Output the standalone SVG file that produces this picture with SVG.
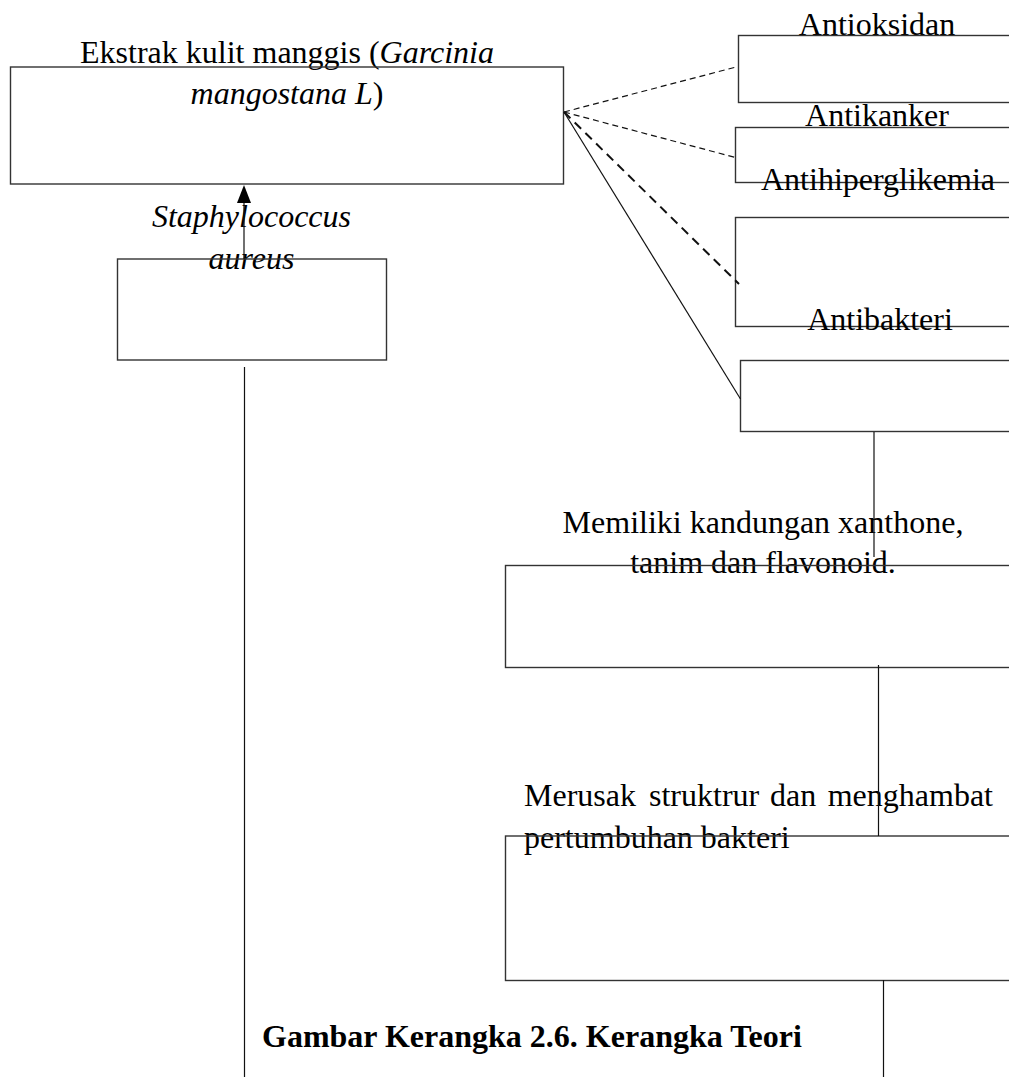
<svg xmlns="http://www.w3.org/2000/svg" width="1009" height="1077" viewBox="0 0 1009 1077">
<style>
text{font-family:"Liberation Serif","Times New Roman",serif;font-size:32px;fill:#000}
.box{fill:none;stroke:#333;stroke-width:1.4}
.ln{fill:none;stroke:#111;stroke-width:1.2}
.d1{fill:none;stroke:#111;stroke-width:1.2;stroke-dasharray:6,4}
.d2{fill:none;stroke:#111;stroke-width:2;stroke-dasharray:9,6}
.it{font-style:italic}
.c{text-anchor:middle}
</style>
<rect width="1009" height="1077" fill="#fff"/>
<g id="node-ekstrak">
<text class="c" x="287" y="63">Ekstrak kulit manggis (<tspan class="it">Garcinia</tspan></text>
<text class="c" x="287" y="104"><tspan class="it">mangostana L</tspan>)</text>
<rect class="box" x="10.5" y="67" width="553" height="117"/>
</g>
<g id="node-staph">
<text class="c it" x="251.5" y="227">Staphylococcus</text>
<text class="c it" x="251.5" y="269">aureus</text>
<rect class="box" x="117.5" y="259" width="269" height="101"/>
</g>
<g id="node-antioksidan">
<text class="c" x="877" y="35">Antioksidan</text>
<rect class="box" x="738.5" y="35.5" width="290" height="67"/>
</g>
<g id="node-antikanker">
<text class="c" x="877" y="126">Antikanker</text>
<rect class="box" x="735.5" y="127.5" width="290" height="55"/>
</g>
<g id="node-antihiperglikemia">
<text class="c" x="878" y="190">Antihiperglikemia</text>
<rect class="box" x="735.5" y="217.5" width="290" height="109"/>
</g>
<g id="node-antibakteri">
<text class="c" x="880" y="330">Antibakteri</text>
<rect class="box" x="740.5" y="360.5" width="290" height="71"/>
</g>
<g id="node-kandungan">
<text class="c" x="763" y="533">Memiliki kandungan xanthone,</text>
<text class="c" x="763" y="573">tanim dan flavonoid.</text>
<rect class="box" x="505.5" y="565.5" width="520" height="102"/>
</g>
<g id="node-merusak">
<text x="524" y="806">Merusak</text>
<text x="649" y="806">struktrur</text>
<text x="770" y="806">dan</text>
<text x="993" y="806" text-anchor="end">menghambat</text>
<text x="524" y="848">pertumbuhan bakteri</text>
<rect class="box" x="505.5" y="836" width="520" height="144.5"/>
</g>
<g id="caption">
<text x="262" y="1047" font-weight="bold">Gambar Kerangka 2.6. Kerangka Teori</text>
</g>
<g id="connectors">
<line class="ln" x1="244" y1="259" x2="244" y2="200" stroke-width="2"/>
<polygon points="244,185 237,203 251,203" fill="#000"/>
<line class="ln" x1="244.5" y1="367" x2="244.5" y2="1077"/>
<line class="d1" x1="564" y1="112" x2="738" y2="66.5"/>
<line class="d1" x1="564" y1="112" x2="735.5" y2="157.5"/>
<line class="d2" x1="564" y1="112" x2="739" y2="284"/>
<line class="ln" x1="564" y1="112" x2="740.5" y2="399"/>
<line class="ln" x1="874" y1="432" x2="874" y2="557"/>
<line class="ln" x1="878.5" y1="665" x2="878.5" y2="836"/>
<line class="ln" x1="883.5" y1="980" x2="883.5" y2="1077"/>
</g>
</svg>
